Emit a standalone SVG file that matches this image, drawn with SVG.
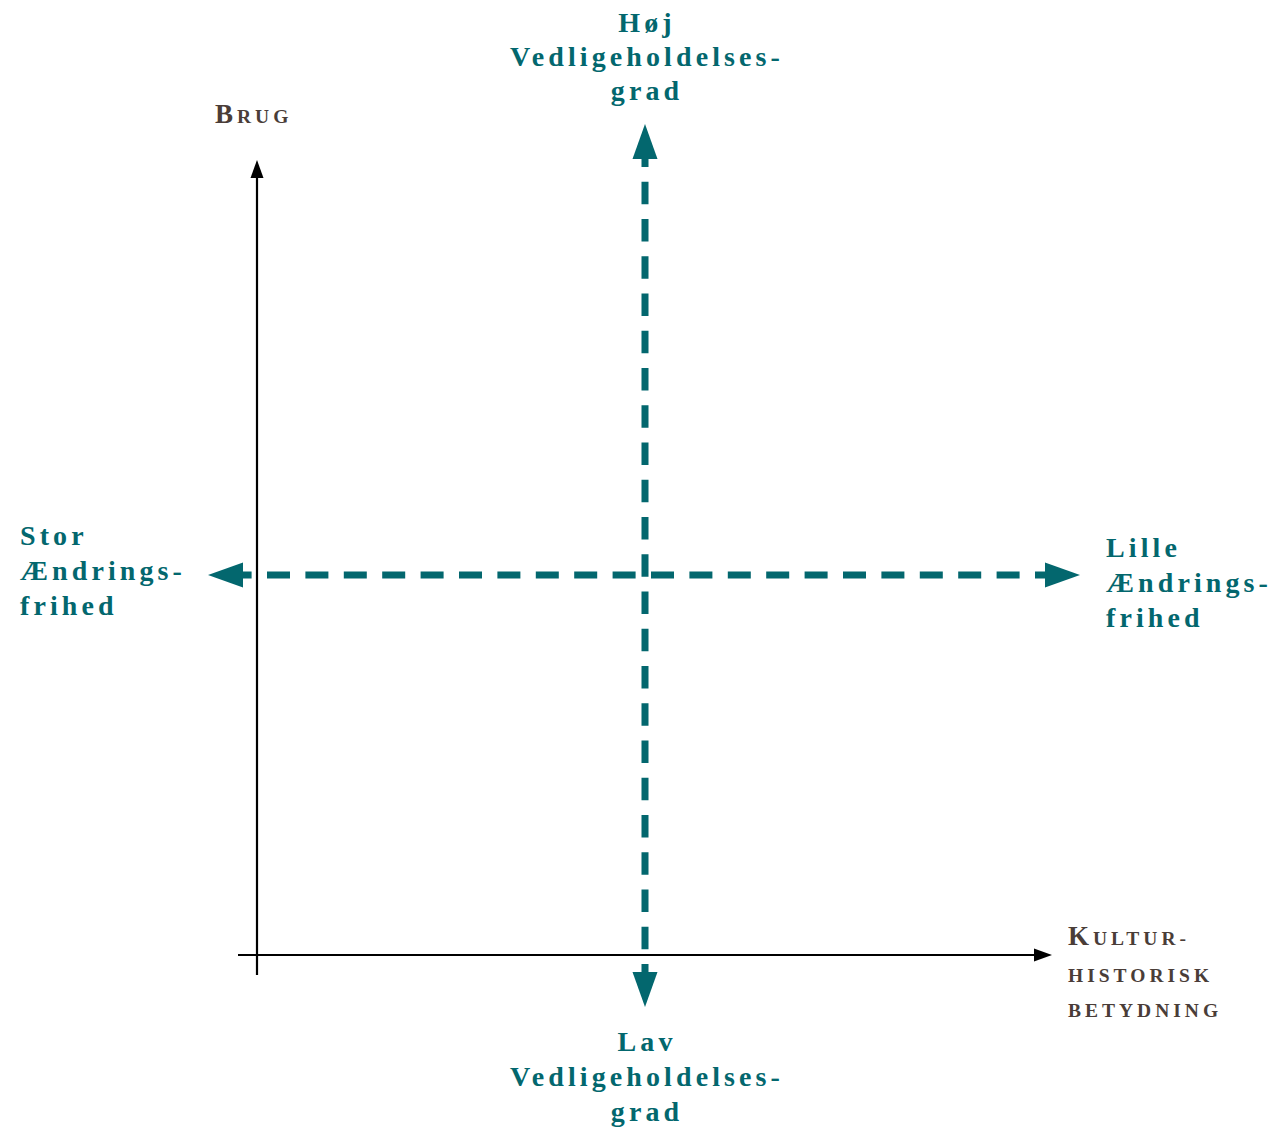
<svg xmlns="http://www.w3.org/2000/svg" width="1281" height="1128" viewBox="0 0 1281 1128">
<style>
.t{font-family:"Liberation Serif","Times New Roman",serif;font-weight:bold;fill:#03676e;font-size:28px;letter-spacing:4.1px}
.b{font-family:"Liberation Serif","Times New Roman",serif;font-weight:bold;fill:#4a3d38;letter-spacing:4px}
.cap{font-size:27px}
.sc{font-size:19.5px}
.ax{stroke:#000;stroke-width:2.2;fill:none}
.dv{stroke:#03676e;stroke-width:7;fill:none;stroke-dasharray:22.5 14.75;stroke-dashoffset:14.5}
.dh{stroke:#03676e;stroke-width:7;fill:none;stroke-dasharray:23 15.4;stroke-dashoffset:14.4}
</style>
<defs>
<marker id="ta" viewBox="0 -13 36 26" refX="0" refY="0" markerWidth="36" markerHeight="26" markerUnits="userSpaceOnUse" orient="auto-start-reverse">
<path d="M0,-12.5 L35,0 L0,12.5 Z" fill="#03676e"/>
</marker>
<marker id="ba" viewBox="0 -7 19 14" refX="0" refY="0" markerWidth="19" markerHeight="14" markerUnits="userSpaceOnUse" orient="auto-start-reverse">
<path d="M0,-6.5 L18,0 L0,6.5 Z" fill="#000"/>
</marker>
</defs>
<g id="connectors">
<line class="ax" x1="257" y1="975" x2="257" y2="178" marker-end="url(#ba)"/>
<line class="ax" x1="238" y1="955" x2="1034" y2="955" marker-end="url(#ba)"/>
<line class="dv" x1="645" y1="159" x2="645" y2="972" marker-start="url(#ta)" marker-end="url(#ta)"/>
<line class="dh" x1="243" y1="575" x2="1045" y2="575" marker-start="url(#ta)" marker-end="url(#ta)"/>
</g>
<g id="label-brug">
<text class="b" x="215" y="123"><tspan class="cap">B</tspan><tspan class="sc">RUG</tspan></text>
</g>
<g id="label-kultur">
<text class="b" x="1068" y="945"><tspan class="cap">K</tspan><tspan class="sc">ULTUR-</tspan></text>
<text class="b sc" x="1068" y="982">HISTORISK</text>
<text class="b sc" x="1068" y="1017">BETYDNING</text>
</g>
<g id="label-hoej">
<text class="t" text-anchor="middle" x="647" y="32">Høj</text>
<text class="t" text-anchor="middle" x="647" y="66">Vedligeholdelses-</text>
<text class="t" text-anchor="middle" x="647" y="100">grad</text>
</g>
<g id="label-lav">
<text class="t" text-anchor="middle" x="647" y="1051">Lav</text>
<text class="t" text-anchor="middle" x="647" y="1086">Vedligeholdelses-</text>
<text class="t" text-anchor="middle" x="647" y="1121">grad</text>
</g>
<g id="label-stor">
<text class="t" x="20" y="545">Stor</text>
<text class="t" x="20" y="580">Ændrings-</text>
<text class="t" x="20" y="615">frihed</text>
</g>
<g id="label-lille">
<text class="t" x="1106" y="557">Lille</text>
<text class="t" x="1106" y="592">Ændrings-</text>
<text class="t" x="1106" y="627">frihed</text>
</g>
</svg>
